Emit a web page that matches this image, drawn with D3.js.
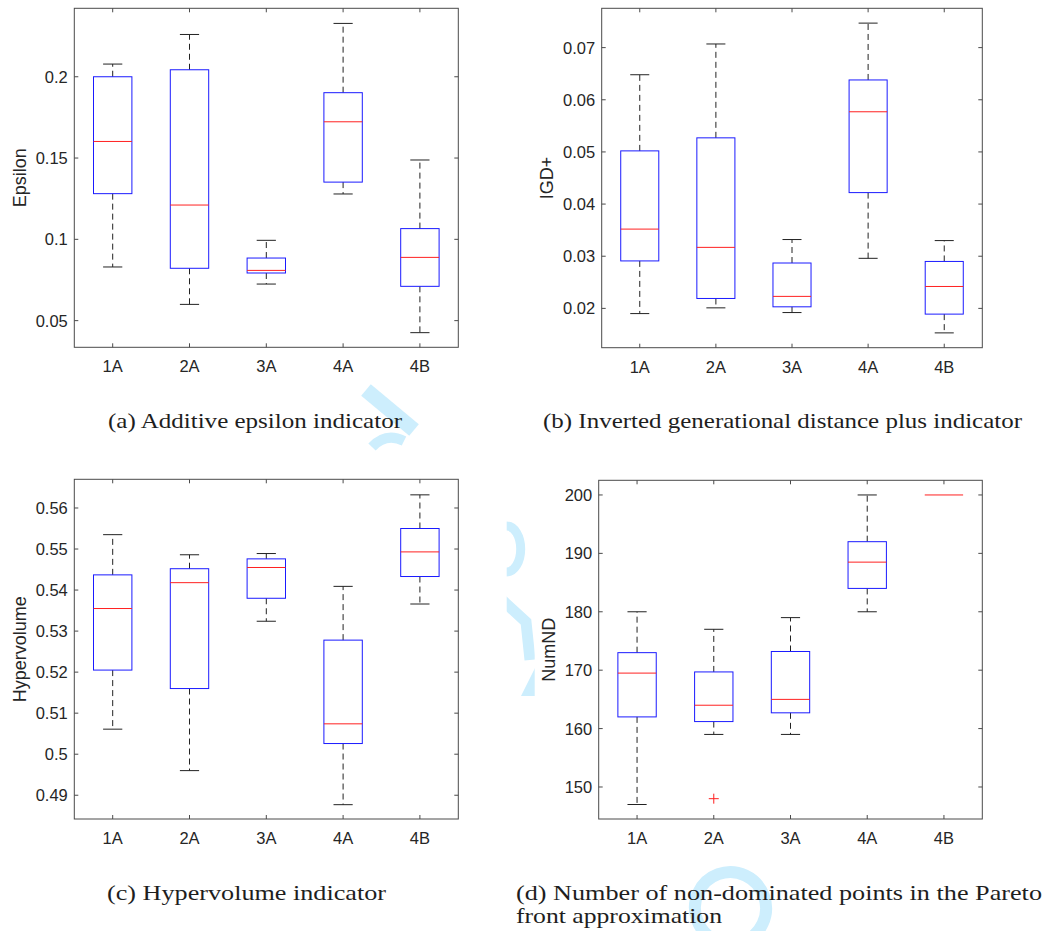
<!DOCTYPE html>
<html lang="en">
<head>
<meta charset="UTF-8">
<title>Quality indicators</title>
<script src="https://d3js.org/d3.v7.min.js"></script>
<style>
  body { margin: 0; background: #fff; }
  svg { display: block; }
  .tick-label { font-family: "Liberation Sans", Arial, sans-serif; font-size: 16.5px; fill: #262626; }
  .axis-label { font-family: "Liberation Sans", Arial, sans-serif; font-size: 18px; fill: #262626; }
  .caption { font-family: "Liberation Serif", "Times New Roman", serif; font-size: 22px; fill: #1e1e1e; }
  .mark { fill: none; stroke: #cdeefd; }
</style>
</head>
<body>
<svg id="fig" width="1047" height="931"></svg>
<script>
const groups = ["1A", "2A", "3A", "4A", "4B"];

// each row: [lower whisker, Q1, median, Q3, upper whisker]
const epsilonStats = [
  [0.0830, 0.1281, 0.1602, 0.2000, 0.2078],
  [0.0600, 0.0822, 0.1211, 0.2043, 0.2260],
  [0.0725, 0.0793, 0.0809, 0.0885, 0.0994],
  [0.1279, 0.1352, 0.1723, 0.1902, 0.2328],
  [0.0426, 0.0711, 0.0889, 0.1066, 0.1488]
];
const igdStats = [
  [0.0190, 0.0291, 0.0352, 0.0502, 0.0648],
  [0.0201, 0.0219, 0.0317, 0.0527, 0.0707],
  [0.0192, 0.0203, 0.0223, 0.0287, 0.0332],
  [0.0296, 0.0422, 0.0577, 0.0638, 0.0747],
  [0.0153, 0.0189, 0.0242, 0.0290, 0.0330]
];
const hvStats = [
  [0.5061, 0.5205, 0.5355, 0.5437, 0.5535],
  [0.4960, 0.5160, 0.5418, 0.5452, 0.5486],
  [0.5324, 0.5380, 0.5455, 0.5476, 0.5489],
  [0.4877, 0.5026, 0.5074, 0.5278, 0.5409],
  [0.5366, 0.5433, 0.5493, 0.5550, 0.5632]
];
const numndStats = [
  [147, 162, 169.5, 173, 180],
  [159, 161.2, 164, 169.7, 177],
  [159, 162.7, 165, 173.2, 179],
  [180, 184, 188.5, 192, 200],
  [200, 200, 200, 200, 200]
];
const numndOutliers = [{ group: "2A", value: 148 }];

const epsilonTicks = [0.05, 0.1, 0.15, 0.2];
const igdTicks = [0.02, 0.03, 0.04, 0.05, 0.06, 0.07];
const hvTicks = [0.49, 0.5, 0.51, 0.52, 0.53, 0.54, 0.55, 0.56];
const numndTicks = [150, 160, 170, 180, 190, 200];

const captions = [
  { lines: ["(a)  Additive epsilon indicator"], x: 108, y: 428, w: [294] },
  { lines: ["(b)  Inverted generational distance plus indicator"], x: 543, y: 428, w: [479] },
  { lines: ["(c)  Hypervolume indicator"], x: 107, y: 900, w: [279] },
  { lines: ["(d)  Number of non-dominated points in the Pareto", "front approximation"], x: 516, y: 900, w: [526, 206] }
];

const panels = [
  { stats: epsilonStats, outliers: [], ticks: epsilonTicks, label: "Epsilon",
    domain: [0.0336, 0.2421], left: 74.3, right: 458.3, top: 8.3, bottom: 347.3 },
  { stats: igdStats, outliers: [], ticks: igdTicks, label: "IGD+",
    domain: [0.01246, 0.07754], left: 601.7, right: 982.3, top: 8.3, bottom: 347.7 },
  { stats: hvStats, outliers: [], ticks: hvTicks, label: "Hypervolume",
    domain: [0.48421, 0.56699], left: 74.3, right: 458.3, top: 479.3, bottom: 819 },
  { stats: numndStats, outliers: numndOutliers, ticks: numndTicks, label: "NumND",
    domain: [144.52, 202.51], left: 598.7, right: 982.3, top: 480.3, bottom: 819 }
];

const svg = d3.select("#fig");
svg.append("rect").attr("width", 1047).attr("height", 931).attr("fill", "#fff");

// faint page watermark, only visible in the gaps between the figures
const defs = svg.append("defs");
defs.append("clipPath").attr("id", "gapClip")
  .append("rect").attr("x", 506.7).attr("y", 470).attr("width", 28).attr("height", 240);
const wm = svg.append("g");
wm.append("ellipse").attr("class", "mark").attr("cx", 730.5).attr("cy", 908)
  .attr("rx", 35.5).attr("ry", 36).attr("stroke-width", 12)
  .attr("transform", "rotate(-20 730.5 908)");
const gap = wm.append("g").attr("clip-path", "url(#gapClip)");
gap.append("ellipse").attr("class", "mark").attr("cx", 506.7).attr("cy", 549)
  .attr("rx", 14).attr("ry", 23).attr("stroke-width", 9);
gap.append("path").attr("d", "M500,598 L526,622 L530,660").attr("class", "mark").attr("stroke-width", 11);
gap.append("path").attr("d", "M535,668 L535,696 L521,696 Z").attr("fill", "#cdeefd");
wm.append("path").attr("d", "M366,390 L414,430").attr("class", "mark").attr("stroke-width", 15);
wm.append("path").attr("d", "M372,447 Q386,432 404,441").attr("class", "mark").attr("stroke-width", 10);

const fmt = d3.format("~g");
const tickLen = 4;
const axisColor = "#4a4a4a";

panels.forEach(p => {
  const g = svg.append("g");
  const x = d3.scalePoint().domain(groups).range([p.left, p.right]).padding(0.5);
  const y = d3.scaleLinear().domain(p.domain).range([p.bottom, p.top]);
  const boxW = x.step() * 0.5;
  const capW = boxW / 2;

  g.append("rect").attr("x", p.left).attr("y", p.top)
    .attr("width", p.right - p.left).attr("height", p.bottom - p.top).attr("fill", "#fff");

  p.stats.forEach((s, i) => {
    const cx = x(groups[i]);
    const [lo, q1, med, q3, hi] = s;
    // whiskers (skipped when they have no length)
    if (hi > q3) {
      g.append("line").attr("x1", cx).attr("x2", cx).attr("y1", y(q3)).attr("y2", y(hi))
        .attr("stroke", "#222").attr("stroke-dasharray", "6,4");
      g.append("line").attr("x1", cx - capW / 2).attr("x2", cx + capW / 2)
        .attr("y1", y(hi)).attr("y2", y(hi)).attr("stroke", "#222");
    }
    if (lo < q1) {
      g.append("line").attr("x1", cx).attr("x2", cx).attr("y1", y(q1)).attr("y2", y(lo))
        .attr("stroke", "#222").attr("stroke-dasharray", "6,4");
      g.append("line").attr("x1", cx - capW / 2).attr("x2", cx + capW / 2)
        .attr("y1", y(lo)).attr("y2", y(lo)).attr("stroke", "#222");
    }
    if (q3 > q1) {
      g.append("rect").attr("x", cx - boxW / 2).attr("y", y(q3))
        .attr("width", boxW).attr("height", y(q1) - y(q3))
        .attr("fill", "none").attr("stroke", "#1a1aff");
    }
    g.append("line").attr("x1", cx - boxW / 2).attr("x2", cx + boxW / 2)
      .attr("y1", y(med)).attr("y2", y(med)).attr("stroke", "#ff2020");
  });

  // outliers
  p.outliers.forEach(o => {
    const cx = x(o.group), cy = y(o.value);
    g.append("path").attr("d", `M${cx - 5},${cy}H${cx + 5}M${cx},${cy - 5}V${cy + 5}`)
      .attr("stroke", "#ff2020").attr("fill", "none");
  });

  // frame
  g.append("rect").attr("x", p.left).attr("y", p.top)
    .attr("width", p.right - p.left).attr("height", p.bottom - p.top)
    .attr("fill", "none").attr("stroke", axisColor);

  // y ticks, both sides, inward
  let maxW = 0;
  p.ticks.forEach(t => {
    const ty = y(t);
    g.append("line").attr("x1", p.left).attr("x2", p.left + tickLen).attr("y1", ty).attr("y2", ty).attr("stroke", axisColor);
    g.append("line").attr("x1", p.right - tickLen).attr("x2", p.right).attr("y1", ty).attr("y2", ty).attr("stroke", axisColor);
    const lab = g.append("text").attr("class", "tick-label").attr("x", p.left - 6.5).attr("y", ty)
      .attr("dy", "0.36em").attr("text-anchor", "end").text(fmt(t));
    maxW = Math.max(maxW, lab.node().getComputedTextLength());
  });

  // x ticks, top and bottom, inward
  groups.forEach(c => {
    const tx = x(c);
    g.append("line").attr("x1", tx).attr("x2", tx).attr("y1", p.bottom).attr("y2", p.bottom - tickLen).attr("stroke", axisColor);
    g.append("line").attr("x1", tx).attr("x2", tx).attr("y1", p.top).attr("y2", p.top + tickLen).attr("stroke", axisColor);
    g.append("text").attr("class", "tick-label").attr("x", tx).attr("y", p.bottom + 25)
      .attr("text-anchor", "middle").text(c);
  });

  // y label
  const lx = p.left - 6.5 - maxW - 10;
  const ly = (p.top + p.bottom) / 2;
  g.append("text").attr("class", "axis-label")
    .attr("transform", `translate(${lx},${ly}) rotate(-90)`)
    .attr("text-anchor", "middle").text(p.label);
});

// captions
captions.forEach(c => {
  c.lines.forEach((line, i) => {
    svg.append("text").attr("class", "caption")
      .attr("x", c.x).attr("y", c.y + i * 23)
      .attr("textLength", c.w[i]).attr("lengthAdjust", "spacingAndGlyphs")
      .text(line);
  });
});
</script>
</body>
</html>
